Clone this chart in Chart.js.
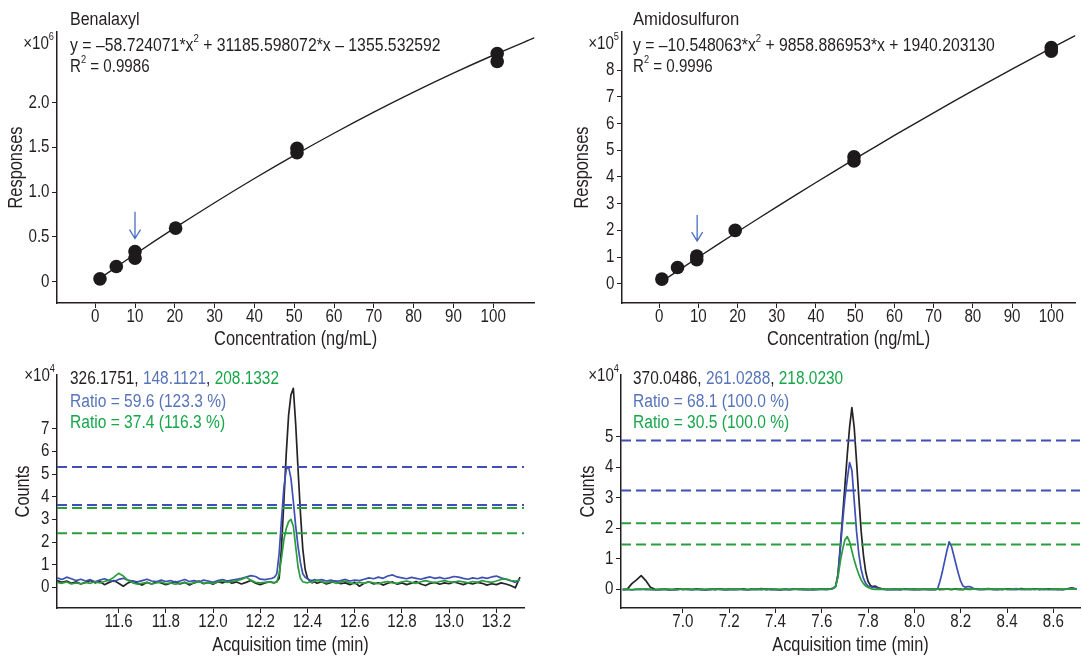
<!DOCTYPE html>
<html>
<head>
<meta charset="utf-8">
<script src="https://cdn.jsdelivr.net/npm/chart.js@4.4.1/dist/chart.umd.min.js"></script>
<style>
  html, body { margin: 0; padding: 0; background: #fff; }
  #wrap { position: relative; width: 1082px; height: 656px; overflow: hidden; }
  canvas { position: absolute; }
</style>
</head>
<body>
<div id="wrap">
  <canvas id="c1" width="541" height="360" style="left:0;top:0"></canvas>
  <canvas id="c2" width="541" height="360" style="left:541px;top:0"></canvas>
  <canvas id="c3" width="541" height="296" style="left:0;top:360px"></canvas>
  <canvas id="c4" width="541" height="296" style="left:541px;top:360px"></canvas>
</div>
<script>
// calibration points (responses in x10^6 / x10^5)
const benConc = [1.2, 5.3, 10, 10, 20.2, 50.7, 50.7, 101, 101];
const benResp = [0.03, 0.168, 0.335, 0.26, 0.597, 1.49, 1.44, 2.55, 2.46];
const benFitX = [1, 10, 20, 30, 40, 50, 60, 70, 80, 90, 100, 111];
const benFitY = [0.030, 0.305, 0.599, 0.881, 1.152, 1.411, 1.658, 1.894, 2.118, 2.330, 2.530, 2.737];

const amiConc = [0.7, 4.7, 9.6, 9.6, 19.4, 49.7, 49.7, 100, 100];
const amiResp = [0.175, 0.61, 1.04, 0.90, 2.0, 4.76, 4.60, 8.85, 8.71];
const amiFitX = [0.7, 10, 20, 30, 40, 50, 60, 70, 80, 90, 100, 110];
const amiFitY = [0.088, 0.995, 1.949, 2.882, 3.794, 4.685, 5.555, 6.404, 7.231, 8.038, 8.823, 9.588];

// arrows marking the 10 ng/mL level
const benArrow = { x: [10], from: [0.78], to: [0.48] };
const amiArrow = { x: [9.7], from: [2.58], to: [1.6] };

const concTicks = [0, 10, 20, 30, 40, 50, 60, 70, 80, 90, 100];
const benRespTicks = [0, 0.5, 1.0, 1.5, 2.0];
const amiRespTicks = [0, 1, 2, 3, 4, 5, 6, 7, 8];

// chromatograms (counts x10^4)
const benTime = [
  11.34,11.36,11.38,11.40,11.42,11.44,11.46,11.48,11.50,11.52,11.54,11.56,11.58,11.60,11.62,11.64,11.66,11.68,11.70,11.72,11.74,11.76,11.78,11.80,11.82,11.84,11.86,11.88,11.90,11.92,11.94,11.96,11.98,12.00,12.02,12.04,12.06,12.08,12.10,12.12,12.14,12.16,12.18,12.20,12.22,12.24,
  12.25,12.26,12.27,12.28,12.29,12.30,12.31,12.32,12.33,12.34,12.35,12.36,12.37,12.38,12.39,12.40,12.41,12.42,12.43,
  12.44,12.46,12.48,12.50,12.52,12.54,12.56,12.58,12.60,12.62,12.64,12.66,12.68,12.70,12.72,12.74,12.76,12.78,12.80,12.82,12.84,12.86,12.88,12.90,12.92,12.94,12.96,12.98,13.00,13.02,13.04,13.06,13.08,13.10,13.12,13.14,13.16,13.18,13.20,13.22,13.24,13.26,13.28,13.30
];
const benQuant = [
  0.30,0.22,0.28,0.18,0.25,0.15,0.22,0.30,0.20,0.26,0.12,0.22,0.30,0.18,0.05,0.20,0.28,0.18,0.10,0.22,0.15,0.25,0.20,0.12,0.18,0.26,0.15,0.22,0.10,0.20,0.28,0.16,0.22,0.14,0.25,0.20,0.28,0.18,0.24,0.15,0.22,0.30,0.18,0.12,0.20,0.25,
  0.22,0.20,0.25,0.40,1.80,3.80,5.90,7.60,8.50,8.78,7.20,5.20,3.30,1.70,0.80,0.40,0.28,0.20,0.25,
  0.18,0.25,0.15,0.22,0.28,0.16,0.20,0.12,0.22,0.05,0.18,0.25,0.15,0.20,0.10,0.18,0.24,0.14,0.20,0.12,0.18,0.26,0.15,0.08,0.18,0.22,0.14,0.20,0.16,0.24,0.18,0.12,0.20,0.15,0.22,0.18,0.10,0.16,0.12,0.20,0.15,0.08,-0.02,0.45
];
const benQual1 = [
  0.42,0.35,0.45,0.38,0.30,0.36,0.28,0.34,0.25,0.32,0.38,0.30,0.26,0.35,0.40,0.32,0.28,0.24,0.30,0.36,0.28,0.25,0.32,0.26,0.30,0.22,0.28,0.35,0.26,0.30,0.24,0.32,0.28,0.22,0.30,0.34,0.28,0.32,0.36,0.40,0.45,0.52,0.48,0.36,0.34,0.38,
  0.40,0.45,0.60,1.50,3.00,4.40,5.20,5.32,4.80,3.80,2.70,1.80,1.10,0.60,0.45,0.38,0.32,0.30,0.34,
  0.30,0.34,0.28,0.32,0.26,0.30,0.35,0.28,0.32,0.30,0.36,0.42,0.38,0.45,0.40,0.50,0.55,0.46,0.42,0.38,0.44,0.40,0.36,0.42,0.46,0.40,0.44,0.38,0.42,0.48,0.45,0.40,0.36,0.42,0.38,0.44,0.40,0.46,0.50,0.42,0.36,0.30,0.22,0.35
];
const benQual2 = [
  0.22,0.18,0.24,0.15,0.20,0.16,0.22,0.18,0.25,0.20,0.26,0.32,0.45,0.62,0.50,0.30,0.20,0.14,0.18,0.22,0.15,0.20,0.24,0.16,0.20,0.14,0.18,0.22,0.16,0.20,0.25,0.18,0.22,0.16,0.24,0.28,0.22,0.26,0.30,0.35,0.45,0.32,0.22,0.20,0.22,0.24,
  0.22,0.20,0.25,0.60,1.30,2.10,2.60,2.90,3.00,2.70,1.80,0.90,0.40,0.25,0.22,0.20,0.25,0.22,0.28,
  0.32,0.25,0.20,0.26,0.18,0.22,0.28,0.20,0.16,0.22,0.18,0.24,0.20,0.16,0.22,0.26,0.20,0.18,0.24,0.28,0.22,0.18,0.25,0.30,0.24,0.20,0.26,0.30,0.25,0.22,0.28,0.24,0.20,0.26,0.22,0.30,0.25,0.22,0.28,0.35,0.38,0.30,0.28,0.32
];
const benLimits1 = [5.31, 3.63];
const benLimits2 = [3.50, 2.39];
const benTimeTicks = [11.6, 11.8, 12.0, 12.2, 12.4, 12.6, 12.8, 13.0, 13.2];
const benCountTicks = [0, 1, 2, 3, 4, 5, 6, 7];

const amiTime = [
  6.74,6.76,6.78,6.80,6.82,6.84,6.86,6.88,6.90,6.92,6.94,6.96,6.98,7.00,7.02,7.04,7.06,7.08,7.10,7.12,7.14,7.16,7.18,7.20,7.22,7.24,7.26,7.28,7.30,7.32,7.34,7.36,7.38,7.40,7.42,7.44,7.46,7.48,7.50,7.52,7.54,7.56,7.58,7.60,7.62,
  7.63,7.64,7.65,7.66,7.67,7.68,7.69,7.70,7.71,7.72,7.73,7.74,7.75,7.76,7.77,7.78,7.79,7.80,7.81,7.82,7.83,7.84,7.85,7.86,7.87,7.88,
  7.90,7.92,7.94,7.96,7.98,8.00,8.02,8.04,8.06,
  8.08,8.09,8.10,8.11,8.12,8.13,8.14,8.15,8.16,8.17,8.18,8.19,8.20,8.21,8.22,8.23,8.24,8.25,8.26,
  8.28,8.30,8.32,8.34,8.36,8.38,8.40,8.42,8.44,8.46,8.48,8.50,8.52,8.54,8.56,8.58,8.60,8.62,8.64,8.66,8.68,8.70
];
const amiQuant = [
  -0.02,0.00,0.18,0.30,0.44,0.28,0.06,-0.01,-0.02,0.00,-0.03,-0.01,0.01,-0.02,0.00,-0.02,0.01,-0.01,-0.03,0.00,-0.02,0.01,-0.01,0.00,-0.02,-0.01,0.01,-0.02,0.00,-0.01,0.02,-0.02,0.00,-0.01,-0.03,0.00,-0.02,0.01,-0.01,0.00,-0.02,0.00,-0.01,0.01,0.00,
  0.00,0.01,0.03,0.10,0.50,1.40,2.40,3.40,4.40,5.30,5.95,5.30,4.20,3.00,1.90,1.10,0.55,0.25,0.12,0.08,0.10,0.06,0.03,0.01,0.00,-0.01,
  -0.01,0.00,-0.02,0.01,-0.01,0.00,-0.02,0.00,-0.01,
  0.00,-0.01,0.01,-0.02,0.00,-0.01,0.01,0.00,-0.02,0.00,0.01,-0.01,0.00,-0.02,0.01,0.00,-0.01,0.00,0.01,
  -0.01,0.00,0.02,-0.01,0.00,-0.02,0.01,0.00,-0.01,0.02,0.00,-0.01,0.01,-0.02,0.00,0.01,-0.01,0.00,-0.02,0.01,0.04,0.00
];
const amiQual1 = [
  -0.02,-0.01,-0.03,-0.01,0.00,-0.02,-0.01,-0.03,-0.02,0.00,-0.01,-0.03,-0.02,0.01,-0.01,-0.02,0.00,-0.03,-0.01,-0.02,0.01,-0.01,-0.03,-0.02,0.00,-0.01,-0.02,-0.03,0.00,-0.01,-0.02,0.01,-0.02,-0.01,-0.03,0.00,-0.02,-0.01,0.00,-0.02,-0.01,-0.03,-0.01,0.00,-0.02,
  -0.01,0.00,0.02,0.08,0.45,1.30,2.20,3.00,3.60,4.15,3.90,2.90,1.90,1.15,0.65,0.35,0.18,0.10,0.08,0.05,0.06,0.03,0.01,0.00,-0.01,-0.02,
  -0.02,-0.01,-0.02,0.00,-0.01,-0.02,-0.01,0.00,-0.02,
  -0.01,-0.02,0.00,0.25,0.55,0.90,1.25,1.55,1.40,1.10,0.80,0.50,0.25,0.10,0.06,0.08,0.08,0.04,0.00,
  -0.01,-0.02,0.00,-0.01,-0.02,0.01,-0.01,-0.02,0.00,-0.01,-0.02,0.00,-0.01,0.01,-0.02,-0.01,0.00,-0.02,-0.01,0.00,0.03,-0.01
];
const amiQual2 = [
  -0.01,0.00,-0.02,0.00,-0.01,0.01,-0.01,-0.02,0.00,-0.01,0.00,-0.02,-0.01,0.01,0.00,-0.01,-0.02,0.00,-0.01,0.01,-0.01,0.00,-0.02,-0.01,0.00,0.01,-0.01,-0.02,0.00,-0.01,0.00,-0.02,0.01,-0.01,0.00,-0.01,-0.02,0.00,0.01,-0.01,0.00,-0.02,-0.01,0.00,-0.01,
  0.00,0.01,0.03,0.10,0.40,0.90,1.30,1.62,1.72,1.55,1.25,0.95,0.70,0.48,0.30,0.18,0.10,0.05,0.02,0.00,-0.01,0.00,-0.01,0.00,-0.01,0.00,
  -0.01,0.00,0.01,-0.01,0.00,-0.02,0.00,0.01,-0.01,
  0.00,-0.01,0.00,0.01,-0.01,0.00,0.01,-0.01,0.00,0.01,-0.01,0.00,-0.02,0.00,0.01,-0.01,0.00,0.01,0.00,
  -0.01,0.00,0.01,-0.01,0.00,0.01,-0.01,0.00,0.02,-0.01,0.00,0.01,-0.01,0.00,0.01,-0.02,0.00,0.01,-0.01,0.00,0.01,0.00
];
const amiLimits1 = [4.87, 3.23];
const amiLimits2 = [2.16, 1.46];
const amiTimeTicks = [7.0, 7.2, 7.4, 7.6, 7.8, 8.0, 8.2, 8.4, 8.6];
const amiCountTicks = [0, 1, 2, 3, 4, 5];

const FONT = '"Liberation Sans", Arial, sans-serif';
const SQUEEZE = 0.84; // the original uses a condensed face
const INK = '#231f20';
const BLUE_TXT = '#5674b8';
const GREEN_TXT = '#17a64a';
const BLUE_LN = '#3f4fb4';
const GREEN_LN = '#2a9d3c';
const ARROW = '#4a6fc0';

Chart.defaults.font.family = FONT;
Chart.defaults.color = INK;
Chart.defaults.animation = false;

const pairs = (xs, ys) => xs.map((x, i) => ({ x, y: ys[i] }));

// squeeze every text draw horizontally around its anchor
const condensed = {
  id: 'condensed',
  beforeInit(chart) {
    const ctx = chart.ctx;
    const fill = ctx.fillText;
    ctx.fillText = function (text, x, y) {
      this.save();
      this.translate(x, y);
      this.scale(SQUEEZE, 1);
      fill.call(this, text, 0, 0);
      this.restore();
    };
  }
};

function drawRuns(ctx, it) {
  const k = it.k || 1;
  let total = 0;
  const widths = it.runs.map(r => {
    ctx.font = (r[2] ? 11 : 18) + 'px ' + FONT;
    const w = ctx.measureText(r[0]).width * SQUEEZE;
    total += w;
    return w;
  });
  ctx.save();
  ctx.translate(it.x, it.y);
  ctx.scale(k, 1);
  let cx = it.align === 'right' ? -total : 0;
  it.runs.forEach((r, i) => {
    ctx.font = (r[2] ? 11 : 18) + 'px ' + FONT;
    ctx.fillStyle = r[1] || INK;
    ctx.fillText(r[0], cx, r[2] ? -7 : 0);
    cx += widths[i];
  });
  ctx.restore();
}

const panelText = {
  id: 'panelText',
  afterDraw(chart, args, opts) {
    const ctx = chart.ctx;
    ctx.save();
    ctx.textBaseline = 'middle';
    ctx.textAlign = 'left';
    (opts.items || []).forEach(it => drawRuns(ctx, it));
    ctx.restore();
  }
};

const arrows = {
  id: 'arrows',
  afterDatasetsDraw(chart, args, opts) {
    if (!opts.x) return;
    const ctx = chart.ctx, xs = chart.scales.x, ys = chart.scales.y;
    ctx.save();
    ctx.strokeStyle = ARROW;
    ctx.lineWidth = 1.3;
    opts.x.forEach((v, i) => {
      const px = xs.getPixelForValue(v);
      const y0 = ys.getPixelForValue(opts.from[i]);
      const y1 = ys.getPixelForValue(opts.to[i]);
      ctx.beginPath();
      ctx.moveTo(px, y0);
      ctx.lineTo(px, y1);
      ctx.moveTo(px - 5.5, y1 - 9);
      ctx.lineTo(px, y1);
      ctx.lineTo(px + 5.5, y1 - 9);
      ctx.stroke();
    });
    ctx.restore();
  }
};

function axis(o) {
  return {
    type: 'linear',
    min: o.min, max: o.max,
    afterFit: s => { if (o.horizontal) s.height = o.size; else s.width = o.size; },
    afterBuildTicks: s => { s.ticks = o.ticks.map(v => ({ value: v })); },
    border: { display: true, color: INK, width: 1.5 },
    grid: { display: true, drawOnChartArea: false, drawTicks: true, tickLength: 5, color: INK, lineWidth: 1 },
    ticks: {
      autoSkip: false, maxRotation: 0, color: INK,
      font: { size: 18, lineHeight: 1 },
      padding: o.horizontal ? 0 : 2.5,
      callback: o.fmt
    },
    title: {
      display: true, text: o.title, color: INK,
      font: { size: 19.5, lineHeight: 1 },
      padding: o.horizontal ? { top: 0, bottom: o.tpad } : { top: o.tpad, bottom: 0 }
    }
  };
}

function calibChart(id, o) {
  return new Chart(document.getElementById(id), {
    type: 'scatter',
    data: {
      datasets: [
        { data: pairs(o.px, o.py), pointRadius: 6.8, pointBackgroundColor: '#1c1a1b', pointBorderWidth: 0, order: 1 },
        { data: pairs(o.fx, o.fy), showLine: true, pointRadius: 0, borderColor: INK, borderWidth: 1.4, tension: 0.3, order: 2 }
      ]
    },
    options: {
      responsive: false, devicePixelRatio: 1, events: [],
      layout: { padding: o.pad },
      plugins: { legend: { display: false }, tooltip: { enabled: false }, panelText: { items: o.text }, arrows: o.arrow },
      scales: {
        x: axis({ horizontal: true, size: 57, min: o.xmin, max: o.xmax, ticks: concTicks, fmt: v => String(v), title: 'Concentration (ng/mL)', tpad: 10.25 }),
        y: axis({ size: o.ysize, min: o.ymin, max: o.ymax, ticks: o.yticks, fmt: o.yfmt, title: 'Responses', tpad: o.ytpad })
      }
    },
    plugins: [condensed, panelText, arrows]
  });
}

function chromChart(id, o) {
  const ds = [
    { data: pairs(o.t, o.q2), borderColor: GREEN_LN, order: 2 },
    { data: pairs(o.t, o.q1), borderColor: BLUE_LN, order: 3 },
    { data: pairs(o.t, o.q0), borderColor: '#262324', order: 4 }
  ].map(d => Object.assign(d, { showLine: true, pointRadius: 0, borderWidth: 1.7, borderJoinStyle: 'round' }));
  o.l1.forEach(v => ds.push({ data: pairs([o.xmin, o.xmax], [v, v]), showLine: true, pointRadius: 0, borderColor: BLUE_LN, borderWidth: 2, borderDash: [10, 5], order: 1 }));
  o.l2.forEach(v => ds.push({ data: pairs([o.xmin, o.xmax], [v, v]), showLine: true, pointRadius: 0, borderColor: GREEN_LN, borderWidth: 2, borderDash: [10, 5], order: 1 }));
  return new Chart(document.getElementById(id), {
    type: 'scatter',
    data: { datasets: ds },
    options: {
      responsive: false, devicePixelRatio: 1, events: [],
      layout: { padding: o.pad },
      plugins: { legend: { display: false }, tooltip: { enabled: false }, panelText: { items: o.text }, arrows: {} },
      scales: {
        x: axis({ horizontal: true, size: 48, min: o.xmin, max: o.xmax, ticks: o.xticks, fmt: v => v.toFixed(1), title: 'Acquisition time (min)', tpad: 0.25 }),
        y: axis({ size: o.ysize, min: o.ymin, max: o.ymax, ticks: o.yticks, fmt: v => String(v), title: 'Counts', tpad: o.ytpad })
      }
    },
    plugins: [condensed, panelText, arrows]
  });
}

calibChart('c1', {
  px: benConc, py: benResp, fx: benFitX, fy: benFitY,
  xmin: -9.6, xmax: 110.3, ymin: -0.24, ymax: 2.79,
  yticks: benRespTicks, yfmt: v => (v === 0 ? '0' : v.toFixed(1)),
  ysize: 57, ytpad: 6.85, pad: { left: 0, right: 1, top: 32, bottom: 0 },
  arrow: benArrow,
  text: [
    { x: 70, y: 20, k: 1.06, runs: [['Benalaxyl']] },
    { x: 70, y: 46, k: 1.045, runs: [['y = \u201358.724071*x'], ['2', INK, true], [' + 31185.598072*x \u2013 1355.532592']] },
    { x: 70, y: 67, runs: [['R'], ['2', INK, true], [' = 0.9986']] },
    { x: 54, y: 44, align: 'right', runs: [['\u00d710'], ['6', INK, true]] }
  ]
});

calibChart('c2', {
  px: amiConc, py: amiResp, fx: amiFitX, fy: amiFitY,
  xmin: -9.46, xmax: 106.1, ymin: -0.72, ymax: 9.43,
  yticks: amiRespTicks, yfmt: v => String(v),
  ysize: 81, ytpad: 31.65, pad: { left: 0, right: 0, top: 32, bottom: 0 },
  arrow: amiArrow,
  text: [
    { x: 92, y: 20, k: 1.1, runs: [['Amidosulfuron']] },
    { x: 92, y: 46, k: 1.04, runs: [['y = \u201310.548063*x'], ['2', INK, true], [' + 9858.886953*x + 1940.203130']] },
    { x: 92, y: 67, runs: [['R'], ['2', INK, true], [' = 0.9996']] },
    { x: 78, y: 44, align: 'right', runs: [['\u00d710'], ['5', INK, true]] }
  ]
});

chromChart('c3', {
  t: benTime, q0: benQuant, q1: benQual1, q2: benQual2, l1: benLimits1, l2: benLimits2,
  xmin: 11.339, xmax: 13.317, ymin: -0.91, ymax: 9.37,
  xticks: benTimeTicks, yticks: benCountTicks,
  ysize: 57, ytpad: 14.25, pad: { left: 0, right: 17, top: 15, bottom: 0 },
  text: [
    { x: 55, y: 16, align: 'right', runs: [['\u00d710'], ['4', INK, true]] },
    { x: 70, y: 19, k: 1.02, runs: [['326.1751, '], ['148.1121', BLUE_TXT], [', '], ['208.1332', GREEN_TXT]] },
    { x: 70, y: 42, k: 1.03, runs: [['Ratio = 59.6 (123.3 %)', BLUE_TXT]] },
    { x: 70, y: 63, k: 1.03, runs: [['Ratio = 37.4 (116.3 %)', GREEN_TXT]] }
  ]
});

chromChart('c4', {
  t: amiTime, q0: amiQuant, q1: amiQual1, q2: amiQual2, l1: amiLimits1, l2: amiLimits2,
  xmin: 6.733, xmax: 8.715, ymin: -0.62, ymax: 7.02,
  xticks: amiTimeTicks, yticks: amiCountTicks,
  ysize: 80, ytpad: 37.55, pad: { left: 0, right: 2, top: 15, bottom: 0 },
  text: [
    { x: 78, y: 16, align: 'right', runs: [['\u00d710'], ['4', INK, true]] },
    { x: 92, y: 19, k: 1.02, runs: [['370.0486, '], ['261.0288', BLUE_TXT], [', '], ['218.0230', GREEN_TXT]] },
    { x: 92, y: 42, k: 1.03, runs: [['Ratio = 68.1 (100.0 %)', BLUE_TXT]] },
    { x: 92, y: 63, k: 1.03, runs: [['Ratio = 30.5 (100.0 %)', GREEN_TXT]] }
  ]
});
</script>
</body>
</html>
